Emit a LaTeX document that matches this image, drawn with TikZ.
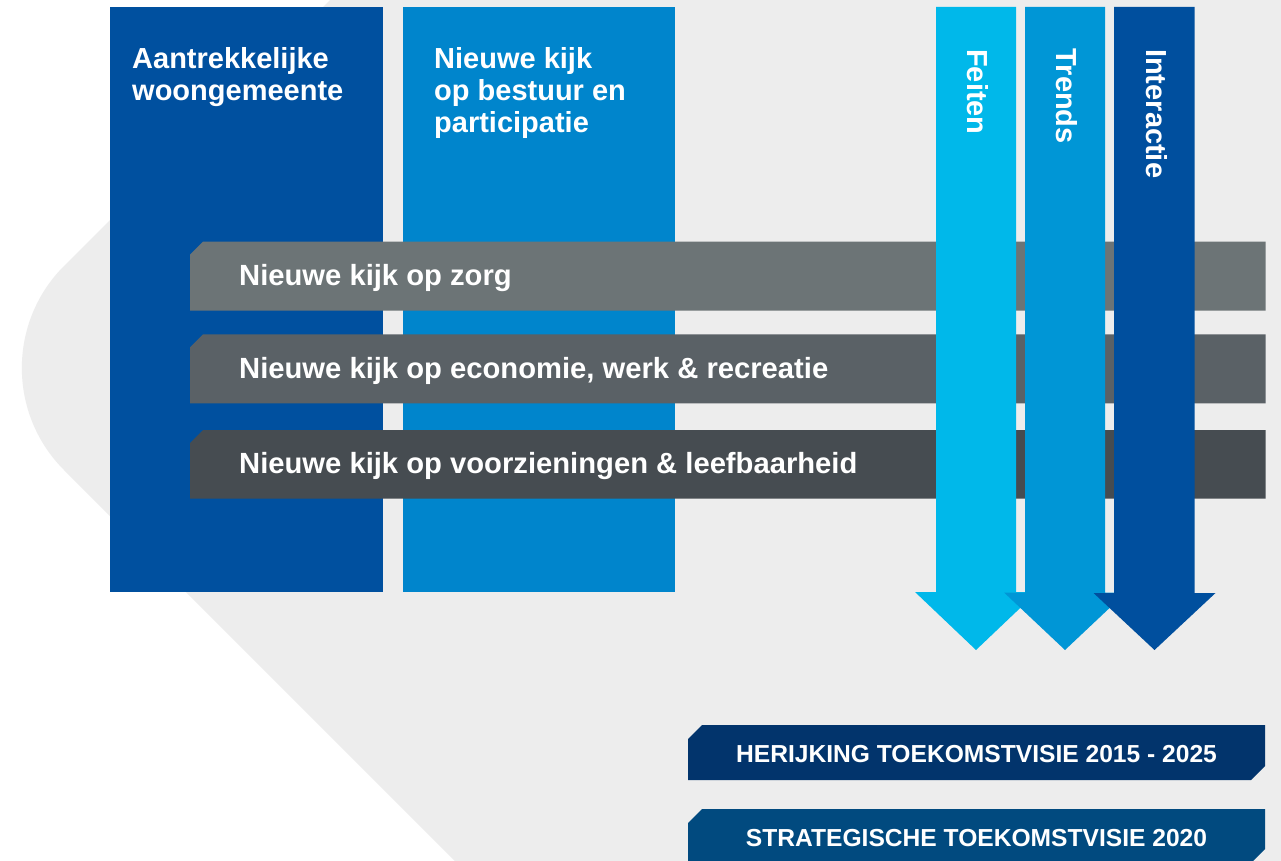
\documentclass[tikz,border=0pt]{standalone}
\usepackage{fontspec}
\setmainfont{Liberation Sans}
\definecolor{bggray}{HTML}{EDEDED}
\definecolor{colA}{HTML}{00509F}
\definecolor{colB}{HTML}{0085CC}
\definecolor{bandA}{HTML}{6C7476}
\definecolor{bandB}{HTML}{5A6166}
\definecolor{bandC}{HTML}{464C51}
\definecolor{arrA}{HTML}{00B8EA}
\definecolor{arrB}{HTML}{0096D6}
\definecolor{arrC}{HTML}{004F9E}
\definecolor{boxA}{HTML}{02346C}
\definecolor{boxB}{HTML}{014A7F}
\begin{document}
\begin{tikzpicture}[x=1pt,y=-1pt,
  coltext/.style={text=white,font=\fontsize{29}{32}\selectfont\bfseries,inner sep=0pt,align=left,anchor=base west},
  bandtext/.style={text=white,font=\fontsize{29.2}{32}\selectfont\bfseries,inner sep=0pt,anchor=base west},
  arrtext/.style={text=white,font=\fontsize{29}{32}\selectfont\bfseries,inner sep=0pt,rotate=-90,anchor=west,text height=20.5pt,text depth=0pt},
  boxtext/.style={text=white,font=\fontsize{24.6}{28}\selectfont\bfseries,inner sep=0pt,anchor=base}
]
\useasboundingbox (0,0) rectangle (1281,861);
\fill[white] (0,0) rectangle (1281,861);
% background shape
\fill[bggray] (330,0) -- (64,266) .. controls (7.8,322.2) and (7.8,413.8) .. (64,470) -- (455,861) -- (1281,861) -- (1281,0) -- cycle;
% columns
\fill[colA] (110,7) rectangle (383,591.5);
\fill[colB] (403,7) rectangle (675,591.5);
% multi-line nodes: base anchor sits on the last line
\node[coltext] (c1) at (132,101) {Aantrekkelijke\\woongemeente};
\node[coltext] (c2) at (434,133) {Nieuwe kijk\\op bestuur en\\participatie};
% bands
\fill[bandA] (190,254.7) -- (203,241.7) -- (1265.5,241.7) -- (1265.5,310.7) -- (190,310.7) -- cycle;
\fill[bandB] (190,347.3) -- (203,334.3) -- (1265.5,334.3) -- (1265.5,403.3) -- (190,403.3) -- cycle;
\fill[bandC] (190,443) -- (203,430) -- (1265.5,430) -- (1265.5,498.7) -- (190,498.7) -- cycle;
\node[bandtext] (b1) at (239,285.5) {Nieuwe kijk op zorg};
\node[bandtext] (b2) at (239,378.5) {Nieuwe kijk op economie, werk \& recreatie};
\node[bandtext] (b3) at (239,473) {Nieuwe kijk op voorzieningen \& leefbaarheid};
% arrows
\fill[arrA] (936,7) -- (1016,7) -- (1016,592) -- (1037,592) -- (976,650) -- (915,592) -- (936,592) -- cycle;
\fill[arrB] (1025,7) -- (1105,7) -- (1105,592.5) -- (1126,592.5) -- (1065,650) -- (1004,592.5) -- (1025,592.5) -- cycle;
\fill[arrC] (1114,7) -- (1194.5,7) -- (1194.5,593) -- (1215.5,593) -- (1154.5,650) -- (1093.5,593) -- (1114,593) -- cycle;
\node[arrtext] (a1) at (978,49) {Feiten};
\node[arrtext] (a2) at (1067,48.5) {Trends};
\node[arrtext] (a3) at (1156.5,49) {Interactie};
% bottom boxes
\fill[boxA] (688,739) -- (702,725) -- (1265,725) -- (1265,766) -- (1251,780) -- (688,780) -- cycle;
\fill[boxB] (688,823) -- (702,809) -- (1265,809) -- (1265,849) -- (1251,863) -- (688,863) -- cycle;
\node[boxtext] (t1) at (976.5,762) {HERIJKING TOEKOMSTVISIE 2015 - 2025};
\node[boxtext] (t2) at (976.5,846.5) {STRATEGISCHE TOEKOMSTVISIE 2020};
\end{tikzpicture}
\end{document}
